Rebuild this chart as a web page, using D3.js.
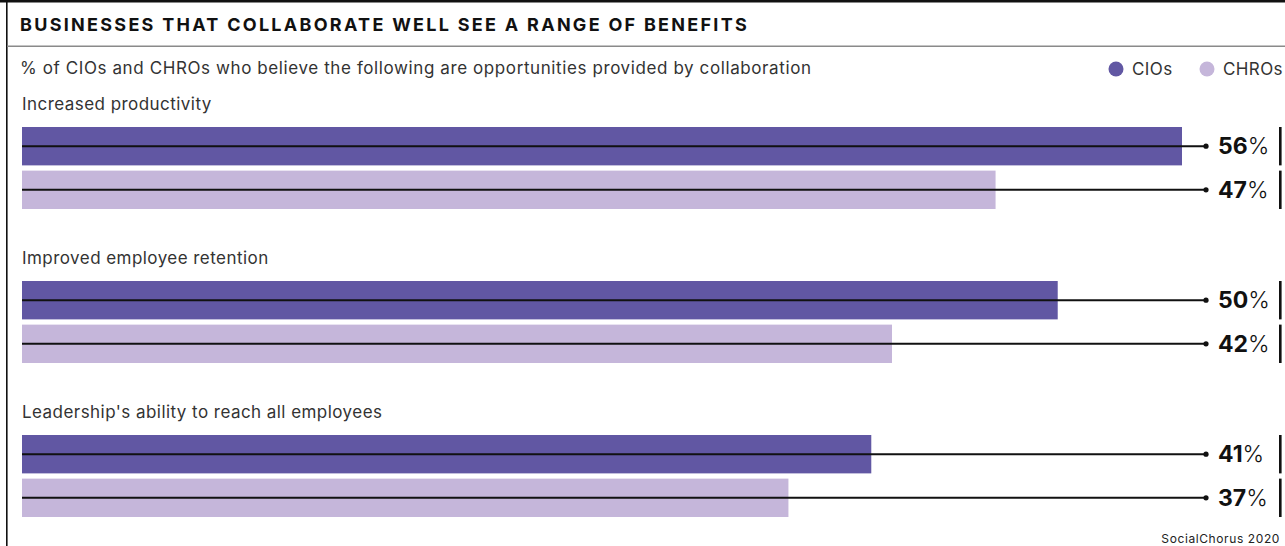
<!DOCTYPE html>
<html>
<head>
<meta charset="utf-8">
<script src="https://cdn.jsdelivr.net/npm/d3@7"></script>
<style>
  html, body { margin: 0; padding: 0; background: #fff; }
  svg { display: block; }
  text { font-family: Inter, "Noto Sans", sans-serif; }
</style>
</head>
<body>
<svg id="chart" width="1285" height="546"></svg>
<script>
// Survey: share of respondents seeing each opportunity from collaboration
const categories = [
  "Increased productivity",
  "Improved employee retention",
  "Leadership's ability to reach all employees"
];
const seriesNames = ["CIOs", "CHROs"];
const cioValues = [56, 50, 41];
const chroValues = [47, 42, 37];
const seriesColors = ["#6157a3", "#c5b6da"];

const title = "BUSINESSES THAT COLLABORATE WELL SEE A RANGE OF BENEFITS";
const subtitle = "% of CIOs and CHROs who believe the following are opportunities provided by collaboration";
const source = "SocialChorus 2020";

const W = 1285, H = 546;
const svg = d3.select("#chart");

// Frame: heavy top rule, left rule, grey divider under the title
svg.append("rect").attr("x", 0).attr("y", 0).attr("width", W).attr("height", 2.5).attr("fill", "#111");
svg.append("rect").attr("x", 6).attr("y", 0).attr("width", 1.6).attr("height", H).attr("fill", "#111");
svg.append("rect").attr("x", 7).attr("y", 45.5).attr("width", W - 7).attr("height", 1.5).attr("fill", "#8a8a8a");

svg.append("text")
  .attr("x", 20).attr("y", 31)
  .attr("font-size", 18).attr("font-weight", 700)
  .attr("letter-spacing", 1.2)
  .attr("textLength", 728).attr("lengthAdjust", "spacing")
  .attr("fill", "#111")
  .text(title);

svg.append("text")
  .attr("x", 20).attr("y", 74)
  .attr("font-size", 17).attr("letter-spacing", 0.6)
  .attr("fill", "#333")
  .text(subtitle);

// Legend
const legend = svg.append("g");
const legendX = [1116, 1207];
seriesNames.forEach((name, i) => {
  legend.append("circle").attr("cx", legendX[i]).attr("cy", 69).attr("r", 7.5).attr("fill", seriesColors[i]);
  legend.append("text").attr("x", legendX[i] + 16).attr("y", 75)
    .attr("font-size", 17).attr("letter-spacing", 0.4).attr("fill", "#333").text(name);
});

// Scales
const x = d3.scaleLinear().domain([0, 56]).range([22, 1182]);
const yGroup = d3.scaleBand().domain(categories).range([127, 435 + 154]);
const ySeries = d3.scaleBand().domain(seriesNames).range([0, 82]).paddingInner(0.12);

const rows = categories.map((c, i) => ({
  category: c,
  values: [cioValues[i], chroValues[i]]
}));

const lineEnd = 1206;
const labelX = 1218;
const tickX = 1279;

const groups = svg.selectAll("g.group").data(rows).join("g")
  .attr("class", "group")
  .attr("transform", d => `translate(0,${yGroup(d.category)})`);

groups.append("text")
  .attr("x", 22).attr("y", -17)
  .attr("font-size", 17).attr("letter-spacing", 0.45).attr("fill", "#333")
  .text(d => d.category);

const bars = groups.selectAll("g.bar")
  .data(d => d.values.map((v, i) => ({ series: seriesNames[i], value: v, color: seriesColors[i] })))
  .join("g").attr("class", "bar")
  .attr("transform", d => `translate(0,${ySeries(d.series)})`);

bars.append("rect")
  .attr("x", x(0)).attr("y", 0)
  .attr("width", d => x(d.value) - x(0))
  .attr("height", ySeries.bandwidth())
  .attr("fill", d => d.color);

bars.append("line")
  .attr("x1", x(0)).attr("x2", lineEnd)
  .attr("y1", ySeries.bandwidth() / 2).attr("y2", ySeries.bandwidth() / 2)
  .attr("stroke", "#111").attr("stroke-width", 2);

bars.append("circle")
  .attr("cx", lineEnd).attr("cy", ySeries.bandwidth() / 2).attr("r", 2.6).attr("fill", "#111");

const lbl = bars.append("text")
  .attr("x", labelX).attr("y", ySeries.bandwidth() / 2 + 8)
  .attr("font-size", 23).attr("fill", "#111");
lbl.append("tspan").attr("font-weight", 700).text(d => d.value);
lbl.append("tspan").attr("font-weight", 300).text("%");

bars.append("rect")
  .attr("x", tickX).attr("y", 0)
  .attr("width", 2.6).attr("height", ySeries.bandwidth())
  .attr("fill", "#111");

svg.append("text")
  .attr("x", 1280).attr("y", 543)
  .attr("text-anchor", "end")
  .attr("font-size", 12).attr("letter-spacing", 0.6)
  .attr("fill", "#222")
  .text(source);
</script>
</body>
</html>
